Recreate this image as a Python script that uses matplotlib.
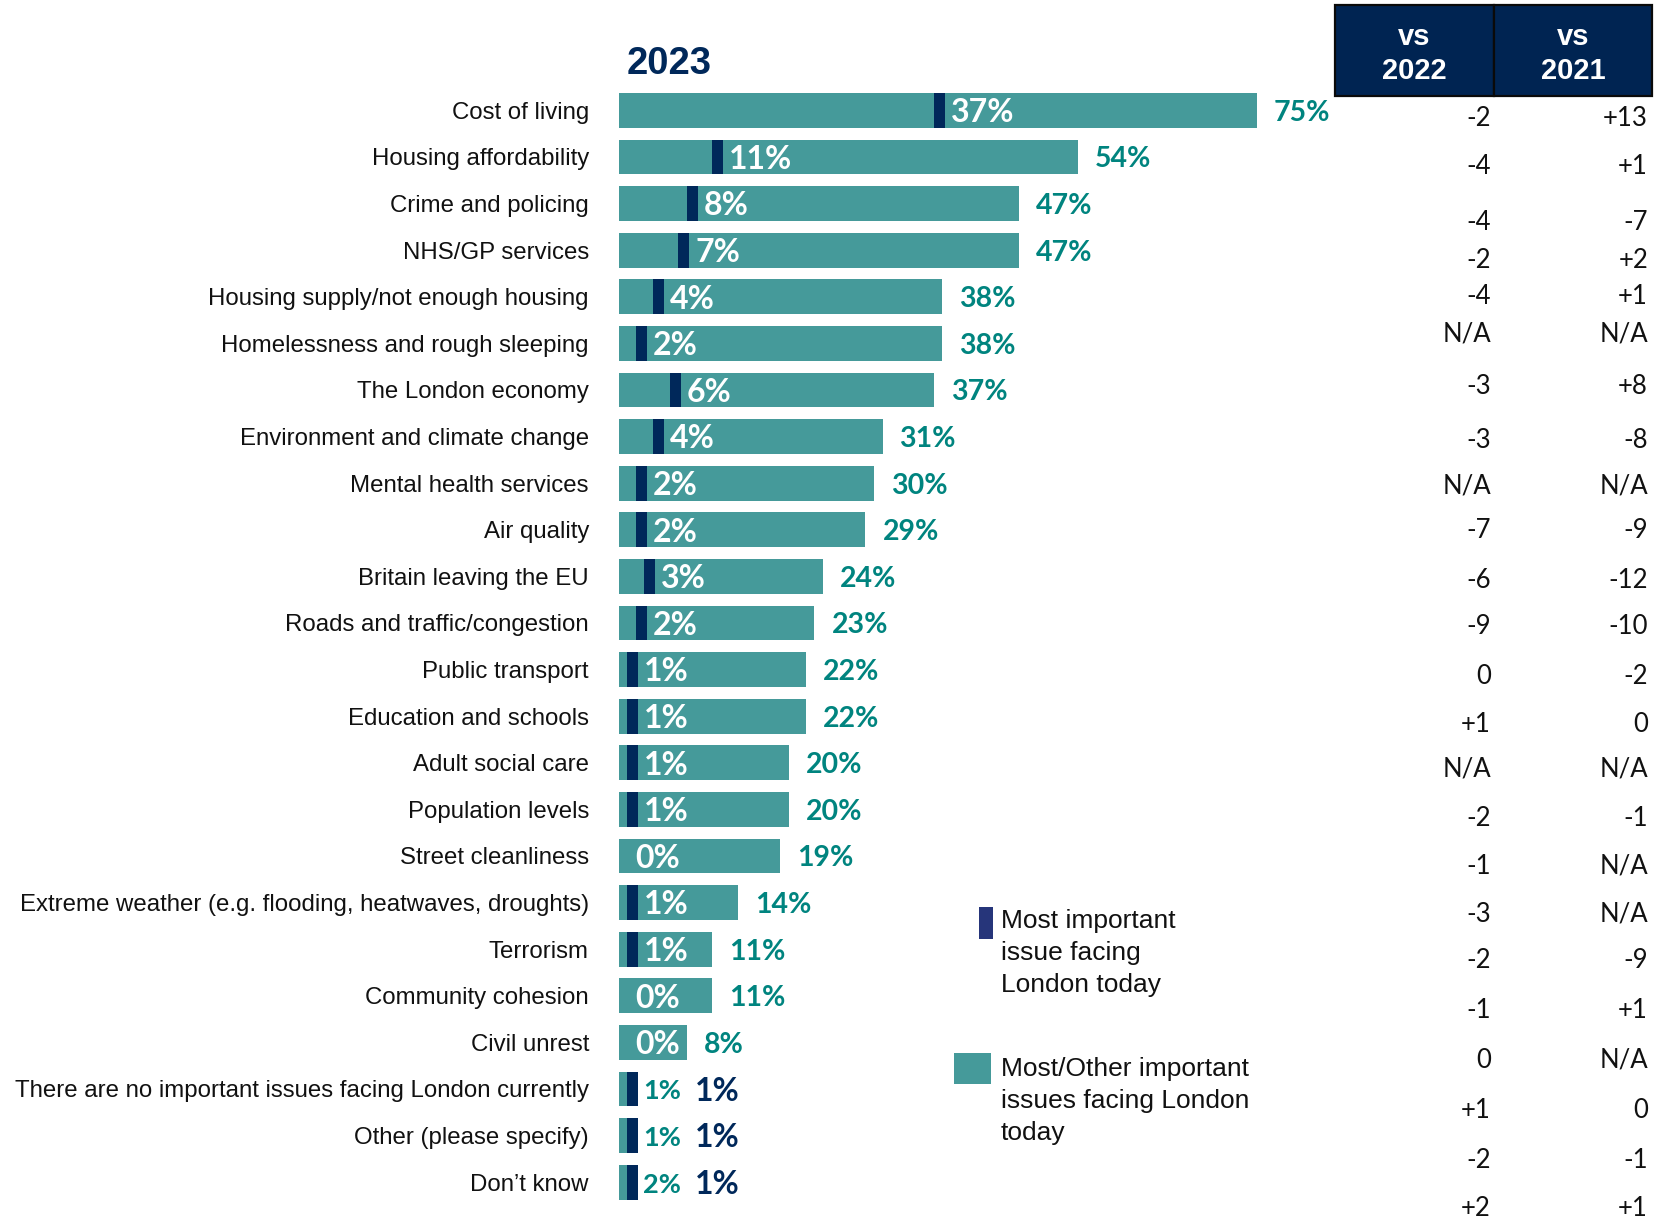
import matplotlib
matplotlib.use("Agg")
import matplotlib.pyplot as plt
from matplotlib.patches import Rectangle

# ---- data -------------------------------------------------------------
categories = [
    "Cost of living",
    "Housing affordability",
    "Crime and policing",
    "NHS/GP services",
    "Housing supply/not enough housing",
    "Homelessness and rough sleeping",
    "The London economy",
    "Environment and climate change",
    "Mental health services",
    "Air quality",
    "Britain leaving the EU",
    "Roads and traffic/congestion",
    "Public transport",
    "Education and schools",
    "Adult social care",
    "Population levels",
    "Street cleanliness",
    "Extreme weather (e.g. flooding, heatwaves, droughts)",
    "Terrorism",
    "Community cohesion",
    "Civil unrest",
    "There are no important issues facing London currently",
    "Other (please specify)",
    "Don\u2019t know",
]
most_other = [75, 54, 47, 47, 38, 38, 37, 31, 30, 29, 24, 23, 22, 22, 20, 20,
              19, 14, 11, 11, 8, 1, 1, 2]
most_important = [37, 11, 8, 7, 4, 2, 6, 4, 2, 2, 3, 2, 1, 1, 1, 1,
                  0, 1, 1, 0, 0, 1, 1, 1]
vs_2022 = ["-2", "-4", "-4", "-2", "-4", "N/A", "-3", "-3", "N/A", "-7", "-6",
           "-9", "0", "+1", "N/A", "-2", "-1", "-3", "-2", "-1", "0", "+1",
           "-2", "+2"]
vs_2021 = ["+13", "+1", "-7", "+2", "+1", "N/A", "+8", "-8", "N/A", "-9",
           "-12", "-10", "-2", "0", "N/A", "-1", "N/A", "N/A", "-9", "+1",
           "N/A", "0", "-1", "+1"]
column_heads = ["vs\n2022", "vs\n2021"]
year_label = "2023"
legend_labels = [["Most important", "issue facing", "London today"],
                 ["Most/Other important", "issues facing London", "today"]]

# ---- layout (pixels) ----------------------------------------------------
W, H = 1664, 1221
table_row_y = [118, 167, 222, 260, 297, 334, 386, 440, 486, 531, 581, 627,
               676, 724, 769, 818, 866, 914, 961, 1010, 1060, 1110, 1160, 1209]

TEAL = "#459a9a"
TEAL_TXT = "#00847f"
NAVY = "#00285a"
NAVY_LEG = "#26357a"
HEAD = "#002452"

fig = plt.figure(figsize=(W / 100, H / 100), dpi=100)
fig.patch.set_facecolor("white")


def fx(x):
    return x / W


def fy(y):
    return 1 - y / H


# bar axes: 0% at x=618.7px, 8.51px per percentage point
x0_px, x1_px = 618.7, 1300.0
px_per_pct = 8.51
top_px, bot_px = 87.1, 1205.5
ax = fig.add_axes([fx(x0_px), fy(bot_px), (x1_px - x0_px) / W,
                   (bot_px - top_px) / H])
ax.set_xlim(0, (x1_px - x0_px) / px_per_pct)
ax.set_ylim(len(categories) - 0.5, -0.5)
for s in ax.spines.values():
    s.set_visible(False)
ax.set_xticks([])

ypos = list(range(len(categories)))
ax.set_yticks(ypos)
ax.set_yticklabels(categories, fontsize=17.3, family="Liberation Sans",
                   color="#111111")
ax.tick_params(axis="y", length=0, pad=21.4)

bar_h = 0.75
marker_w = 1.3
dy = 0.05  # optical centring of the value labels
ax.barh(ypos, most_other, height=bar_h, color=TEAL, zorder=2)

for i, (tot, mi) in enumerate(zip(most_other, most_important)):
    if mi > 0:
        ax.barh(i, marker_w, left=mi, height=bar_h, color=NAVY, zorder=3)
    small = tot < 5
    if not small:
        ax.text(mi + marker_w + 0.7, i + dy, f"{mi}%", color="white",
                fontsize=23, fontweight="bold", family="Lato",
                va="center", ha="left", zorder=4)
        ax.text(tot + 2.0, i + dy, f"{tot}%", color=TEAL_TXT, fontsize=20.5,
                fontweight="bold", family="Lato", va="center", ha="left",
                zorder=4)
    else:
        ax.text(2.9, i + dy, f"{tot}%", color=TEAL_TXT, fontsize=19.5,
                fontweight="bold", family="Lato", va="center", ha="left",
                zorder=4)
        ax.text(9.0, i + dy, f"{mi}%", color=NAVY, fontsize=23,
                fontweight="bold", family="Lato", va="center", ha="left",
                zorder=4)

# year heading
fig.text(fx(627), fy(63.5), year_label, color=NAVY, fontsize=27.5,
         fontweight="bold", family="Liberation Sans", ha="left", va="center")

# comparison table header
boxes = [(1335, 1494), (1494, 1652)]
for (bx0, bx1), head in zip(boxes, column_heads):
    fig.patches.append(Rectangle((fx(bx0), fy(96)), fx(bx1 - bx0), 91 / H,
                                 transform=fig.transFigure, facecolor=HEAD,
                                 edgecolor="#0a0a0a", linewidth=1.6))
    line1, line2 = head.split("\n")
    cx = (bx0 + bx1) / 2
    fig.text(fx(cx), fy(37), line1, color="white", fontsize=21,
             fontweight="bold", family="Liberation Sans", ha="center",
             va="center")
    fig.text(fx(cx), fy(71), line2, color="white", fontsize=21,
             fontweight="bold", family="Liberation Sans", ha="center",
             va="center")

# comparison values
for y, a, b in zip(table_row_y, vs_2022, vs_2021):
    fig.text(fx(1491), fy(y), a, color="#111111", fontsize=18.5,
             family="Lato", ha="right", va="center")
    fig.text(fx(1648), fy(y), b, color="#111111", fontsize=18.5,
             family="Lato", ha="right", va="center")

# legend
fig.patches.append(Rectangle((fx(979), fy(939)), fx(14), 32 / H,
                             transform=fig.transFigure, facecolor=NAVY_LEG,
                             edgecolor="none"))
fig.patches.append(Rectangle((fx(954), fy(1084)), fx(37), 31 / H,
                             transform=fig.transFigure, facecolor=TEAL,
                             edgecolor="none"))
for lines, y_start in zip(legend_labels, [921, 1069]):
    for k, line in enumerate(lines):
        fig.text(fx(1000.7), fy(y_start + 32 * k), line, color="#111111",
                 fontsize=19, family="Liberation Sans", ha="left",
                 va="center")

fig.savefig("out.png", dpi=100, facecolor="white")
